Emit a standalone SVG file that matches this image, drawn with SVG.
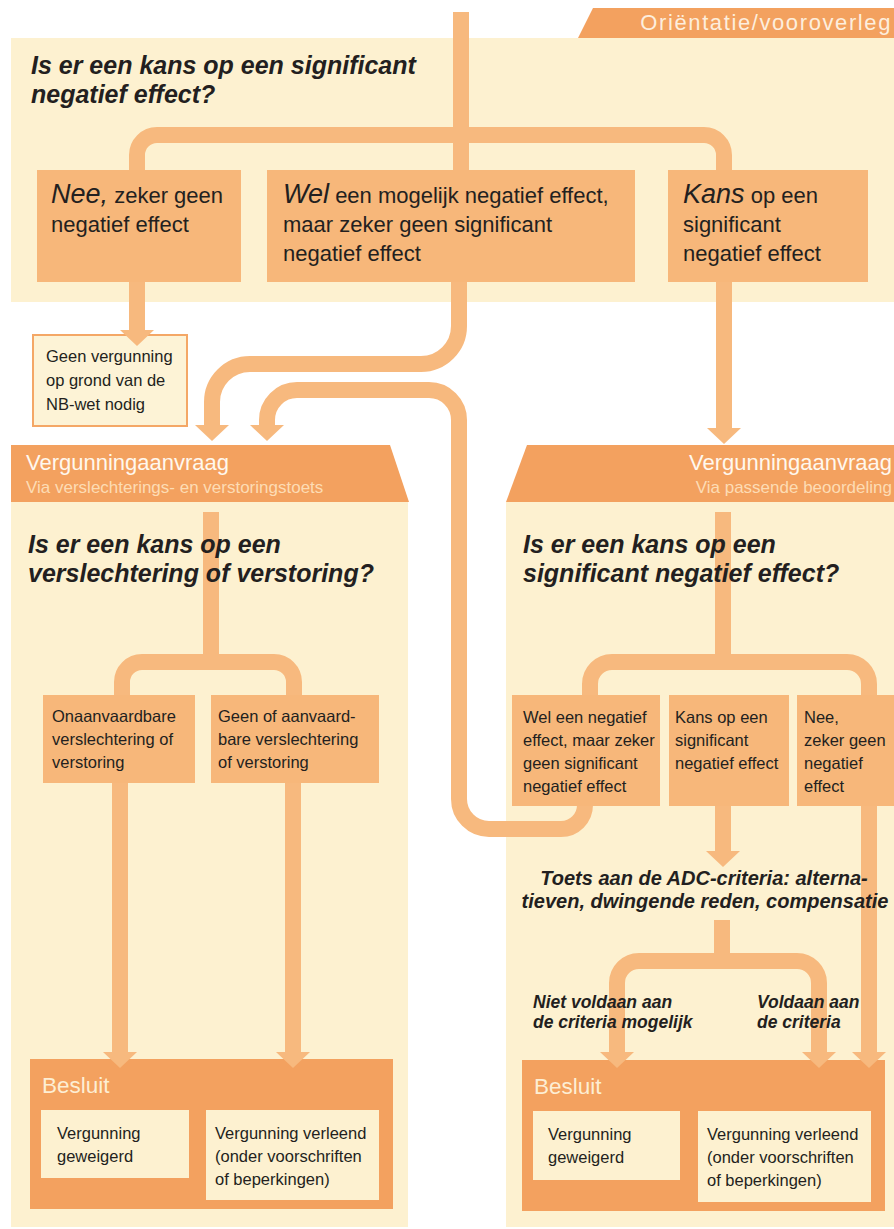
<svg xmlns="http://www.w3.org/2000/svg" width="894" height="1229" viewBox="0 0 894 1229">
<style>
text{font-family:"Liberation Sans",Arial,sans-serif;fill:#231f20}
.panel{fill:#fdf1d0}
.dark{fill:#f3a15f}
.box{fill:#f7b77a}
.inner{fill:#fdf1d0}
.q{font-size:25px;font-weight:bold;font-style:italic}
.big{font-size:22px}
.it{font-size:27px;font-style:italic}
.sm{font-size:16.5px}
.lab{font-size:17.5px;font-weight:bold;font-style:italic}
.adc{font-size:20px;font-weight:bold;font-style:italic}
.hd{font-size:22px;fill:#fff8ee}
.sub{font-size:17px;fill:#fddcb4}
.bes{font-size:22.5px;fill:#fdeed4}
.tab{font-size:22px;fill:#fdeedd;letter-spacing:1.6px}
.c{fill:none;stroke:#f7b97e;stroke-width:16}
.ca{marker-end:url(#ah)}
</style>
<defs>
<marker id="ah" markerUnits="userSpaceOnUse" markerWidth="16" markerHeight="34" viewBox="0 0 16 34" refX="0" refY="17" orient="auto">
<polygon points="0,0 16,17 0,34" fill="#f7b97e"/>
</marker>
</defs>

<g id="background">
<rect class="panel" x="11" y="38" width="883" height="264"/>
<rect class="panel" x="11" y="502" width="397" height="725"/>
<rect class="panel" x="506" y="502" width="388" height="725"/>
</g>

<g id="tab-orientatie">
<polygon class="dark" points="593,8 894,8 894,38 578,38"/>
<text class="tab" x="892" y="30" text-anchor="end">Oriëntatie/vooroverleg</text>
</g>

<g id="header-left">
<polygon class="dark" points="11,445 390,445 409,502 11,502"/>
<text class="hd" x="26" y="470">Vergunningaanvraag</text>
<text class="sub" x="26" y="493">Via verslechterings- en verstoringstoets</text>
</g>

<g id="header-right">
<polygon class="dark" points="527,445 894,445 894,502 506,502"/>
<text class="hd" x="892" y="470" text-anchor="end">Vergunningaanvraag</text>
<text class="sub" x="892" y="493" text-anchor="end">Via passende beoordeling</text>
</g>

<g id="n-geen-vergunning">
<rect x="33" y="335" width="154" height="91" fill="#fdf3d6" stroke="#f4a766" stroke-width="2"/>
<text class="sm" x="46" y="362">Geen vergunning</text>
<text class="sm" x="46" y="386">op grond van de</text>
<text class="sm" x="46" y="410">NB-wet nodig</text>
</g>

<g id="besluit-left">
<rect class="dark" x="30" y="1059" width="363" height="150"/>
<text class="bes" x="42" y="1093">Besluit</text>
<rect class="inner" x="41" y="1110" width="148" height="68"/>
<rect class="inner" x="206" y="1110" width="173" height="90"/>
<text class="sm" x="57" y="1139">Vergunning</text>
<text class="sm" x="57" y="1162">geweigerd</text>
<text class="sm" x="215" y="1139">Vergunning verleend</text>
<text class="sm" x="215" y="1162">(onder voorschriften</text>
<text class="sm" x="215" y="1185">of beperkingen)</text>
</g>

<g id="besluit-right">
<rect class="dark" x="522" y="1060" width="363" height="151"/>
<text class="bes" x="534" y="1094">Besluit</text>
<rect class="inner" x="533" y="1111" width="147" height="69"/>
<rect class="inner" x="698" y="1111" width="173" height="91"/>
<text class="sm" x="548" y="1140">Vergunning</text>
<text class="sm" x="548" y="1163">geweigerd</text>
<text class="sm" x="707" y="1140">Vergunning verleend</text>
<text class="sm" x="707" y="1163">(onder voorschriften</text>
<text class="sm" x="707" y="1186">of beperkingen)</text>
</g>

<g id="connectors">
<path class="c" d="M 461 12 V 170"/>
<path class="c" d="M 137 170 V 155 A 20 20 0 0 1 157 135 H 704 A 20 20 0 0 1 724 155 V 170"/>
<path class="c ca" d="M 137 282 V 330"/>
<path class="c ca" d="M 459 282 V 326 A 38 38 0 0 1 421 364 H 250 A 38 38 0 0 0 212 402 V 425"/>
<path class="c ca" d="M 724 282 V 428"/>
<path class="c" d="M 211 512 V 662"/>
<path class="c" d="M 122 695 V 682 A 20 20 0 0 1 142 662 H 274 A 20 20 0 0 1 294 682 V 695"/>
<path class="c ca" d="M 120 783 V 1052"/>
<path class="c ca" d="M 293 783 V 1052"/>
<path class="c" d="M 723 512 V 662"/>
<path class="c" d="M 590 695 V 684 A 22 22 0 0 1 612 662 H 847 A 22 22 0 0 1 869 684 V 695"/>
<path class="c ca" d="M 585 800 V 805 A 24 24 0 0 1 561 829 H 489 A 30 30 0 0 1 459 799 V 420 A 30 30 0 0 0 429 390 H 297 A 30 30 0 0 0 267 420 V 425"/>
<path class="c ca" d="M 723 806 V 851"/>
<path class="c ca" d="M 869 806 V 1052"/>
<path class="c" d="M 722 920 V 961"/>
<path class="c ca" d="M 722 961 H 639 A 22 22 0 0 0 617 983 V 1052"/>
<path class="c ca" d="M 722 961 H 797 A 22 22 0 0 1 819 983 V 1052"/>
</g>

<g id="q-top">
<text class="q" x="31" y="74">Is er een kans op een significant</text>
<text class="q" x="31" y="103">negatief effect?</text>
</g>

<g id="n-nee">
<rect class="box" x="37" y="170" width="204" height="112"/>
<text class="big" x="51" y="203"><tspan class="it">Nee,</tspan> zeker geen</text>
<text class="big" x="51" y="232">negatief effect</text>
</g>

<g id="n-wel">
<rect class="box" x="267" y="170" width="368" height="112"/>
<text class="big" x="283" y="203"><tspan class="it">Wel</tspan> een mogelijk negatief effect,</text>
<text class="big" x="283" y="232">maar zeker geen significant</text>
<text class="big" x="283" y="261">negatief effect</text>
</g>

<g id="n-kans">
<rect class="box" x="668" y="170" width="200" height="112"/>
<text class="big" x="683" y="203"><tspan class="it">Kans</tspan> op een</text>
<text class="big" x="683" y="232">significant</text>
<text class="big" x="683" y="261">negatief effect</text>
</g>

<g id="q-left">
<text class="q" x="28" y="553">Is er een kans op een</text>
<text class="q" x="28" y="582">verslechtering of verstoring?</text>
</g>

<g id="n-onaanvaardbaar">
<rect class="box" x="43" y="695" width="152" height="88"/>
<text class="sm" x="52" y="722">Onaanvaardbare</text>
<text class="sm" x="52" y="745">verslechtering of</text>
<text class="sm" x="52" y="768">verstoring</text>
</g>

<g id="n-aanvaardbaar">
<rect class="box" x="211" y="695" width="168" height="88"/>
<text class="sm" x="218" y="722">Geen of aanvaard-</text>
<text class="sm" x="218" y="745">bare verslechtering</text>
<text class="sm" x="218" y="768">of verstoring</text>
</g>

<g id="q-right">
<text class="q" x="523" y="553">Is er een kans op een</text>
<text class="q" x="523" y="582">significant negatief effect?</text>
</g>

<g id="n-wel-negatief">
<rect class="box" x="512" y="695" width="148" height="111"/>
<text class="sm" x="523" y="723">Wel een negatief</text>
<text class="sm" x="523" y="746">effect, maar zeker</text>
<text class="sm" x="523" y="769">geen significant</text>
<text class="sm" x="523" y="792">negatief effect</text>
</g>

<g id="n-kans-significant">
<rect class="box" x="669" y="695" width="120" height="111"/>
<text class="sm" x="675" y="723">Kans op een</text>
<text class="sm" x="675" y="746">significant</text>
<text class="sm" x="675" y="769">negatief effect</text>
</g>

<g id="n-nee-zeker">
<rect class="box" x="797" y="695" width="97" height="111"/>
<text class="sm" x="804" y="723">Nee,</text>
<text class="sm" x="804" y="746">zeker geen</text>
<text class="sm" x="804" y="769">negatief</text>
<text class="sm" x="804" y="792">effect</text>
</g>

<g id="adc">
<text class="adc" x="704" y="885" text-anchor="middle">Toets aan de ADC-criteria: alterna-</text>
<text class="adc" x="705" y="908" text-anchor="middle">tieven, dwingende reden, compensatie</text>
</g>

<g id="lab-niet-voldaan">
<text class="lab" x="533" y="1008">Niet voldaan aan</text>
<text class="lab" x="533" y="1028">de criteria mogelijk</text>
</g>

<g id="lab-voldaan">
<text class="lab" x="757" y="1008">Voldaan aan</text>
<text class="lab" x="757" y="1028">de criteria</text>
</g>
</svg>
